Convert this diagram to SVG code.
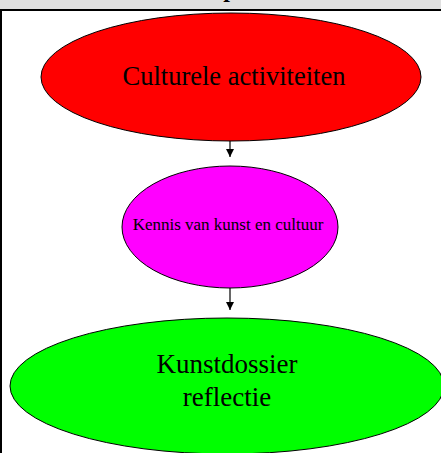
<svg xmlns="http://www.w3.org/2000/svg" width="441" height="453" viewBox="0 0 441 453">
  <style>
    .node { stroke: #000; stroke-width: 1; }
    .label { font-family: "Liberation Serif", "Times New Roman", serif; fill: #000; text-anchor: middle; }
    .edge { stroke: #000; stroke-width: 1.2; fill: none; }
  </style>
  <defs>
    <marker id="arrow" viewBox="0 0 10 10" refX="10" refY="5" markerWidth="8" markerHeight="9" markerUnits="userSpaceOnUse" orient="auto">
      <path d="M0,0 L10,5 L0,10 Z" fill="#000"/>
    </marker>
  </defs>
  <rect width="441" height="453" fill="#fff"/>
  <!-- title bar; the heading sits above the visible area, only a descender shows -->
  <g id="titlebar">
    <rect x="0" y="0" width="441" height="10" fill="#e0e0e0"/>
    <text class="label" x="230" y="-3" font-size="24" font-weight="bold">p</text>
    <rect x="0" y="9" width="441" height="2" fill="#000"/>
    <rect x="0" y="9" width="2" height="444" fill="#000"/>
  </g>
  <g id="connectors">
    <line class="edge" x1="230" y1="141" x2="230" y2="157" marker-end="url(#arrow)"/>
    <line class="edge" x1="230" y1="288" x2="230" y2="310" marker-end="url(#arrow)"/>
  </g>
  <g id="culturele-activiteiten">
    <ellipse class="node" cx="231" cy="77" rx="190" ry="64" fill="#ff0000"/>
    <text class="label" x="234" y="85" font-size="26.5">Culturele activiteiten</text>
  </g>
  <g id="kennis-kunst-cultuur">
    <ellipse class="node" cx="230" cy="227" rx="108" ry="61" fill="#ff00ff"/>
    <text class="label" x="228" y="230" font-size="17">Kennis van kunst en cultuur</text>
  </g>
  <g id="kunstdossier-reflectie">
    <ellipse class="node" cx="227" cy="386" rx="217" ry="68" fill="#00ff00"/>
    <text class="label" x="227" y="373" font-size="27">Kunstdossier</text>
    <text class="label" x="227" y="406" font-size="27">reflectie</text>
  </g>
</svg>
